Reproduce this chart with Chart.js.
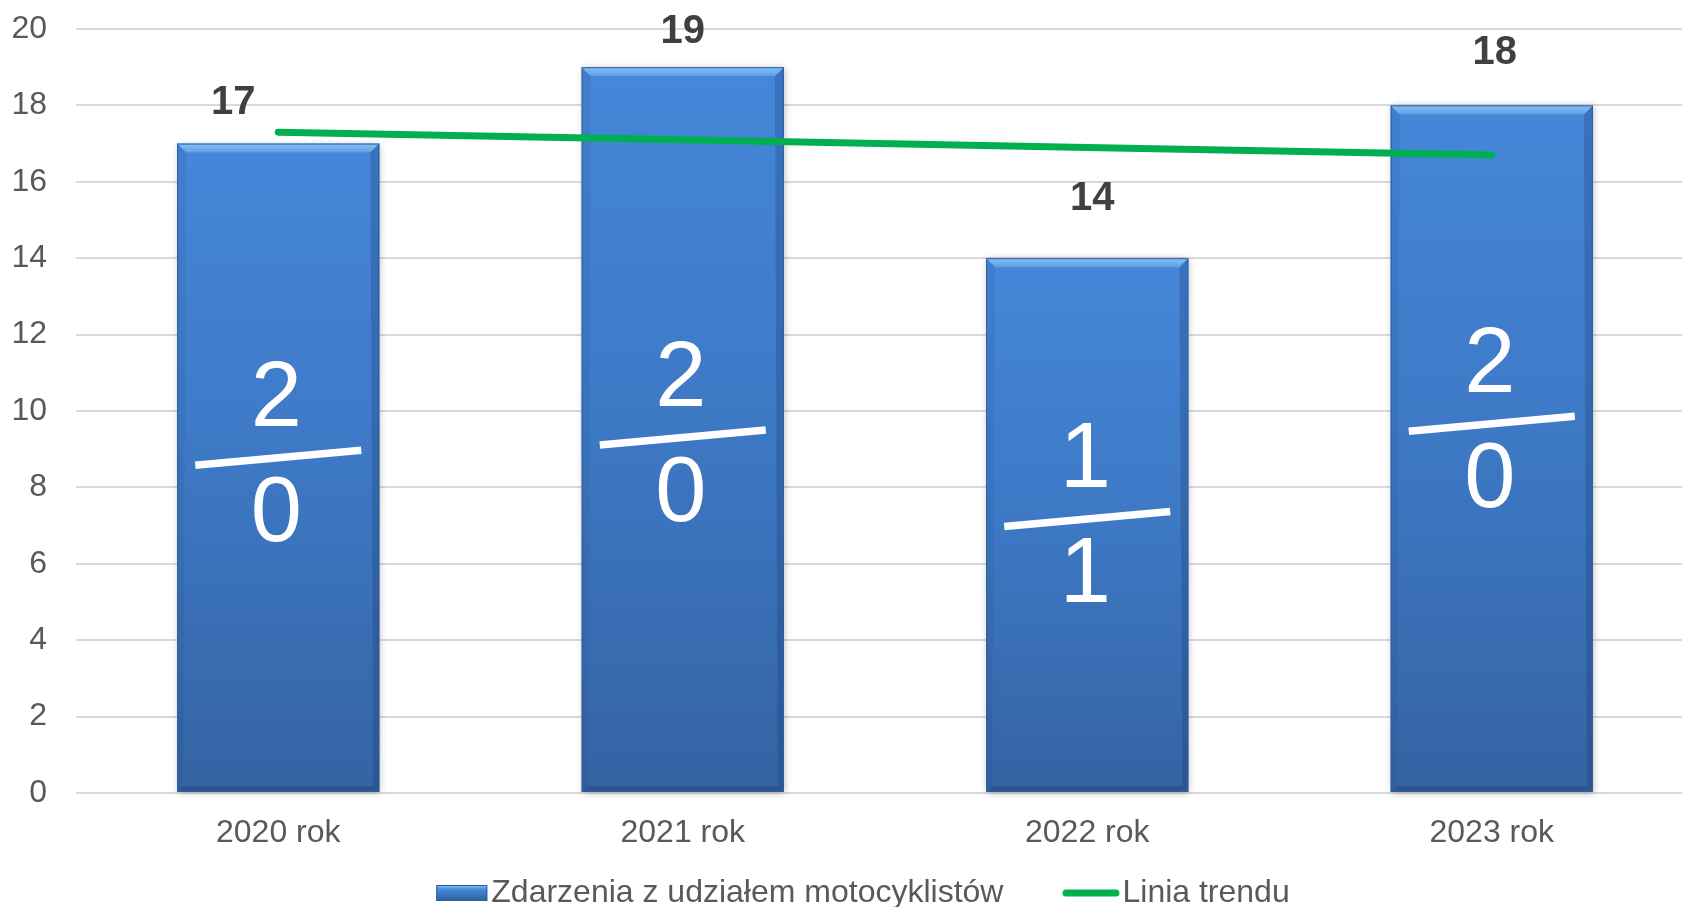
<!DOCTYPE html>
<html><head><meta charset="utf-8">
<script src="https://cdn.jsdelivr.net/npm/chart.js@4.4.0/dist/chart.umd.min.js"></script>
<style>
html,body{margin:0;padding:0;background:#fff;overflow:hidden;}
#wrap{position:absolute;left:0;top:0;width:1700px;height:907px;}
</style></head><body>
<div id="wrap"><canvas id="c"></canvas></div>
<script>
// ---- data ----
const categories = ['2020 rok', '2021 rok', '2022 rok', '2023 rok'];
const eventCounts = [17, 19, 14, 18];
const trendValues = [17.3, 17.1, 16.9, 16.7];
const numerators = ['2', '2', '1', '2'];
const denominators = ['0', '0', '1', '0'];
const seriesNames = ['Zdarzenia z udziałem motocyklistów', 'Linia trendu'];
const yMin = 0, yMax = 20, yStep = 2;

// ---- layout tweaks (pixel offsets of annotations) ----
const valueLabelShift = [[-45, 41], [0, 35], [5, 59], [3, 52]];
const fractionShift = [-10, 8, -6, -25];

const FONT = "'Liberation Sans', Arial, sans-serif";

const barGradient = (ctx) => {
  const chart = ctx.chart;
  if (!chart.chartArea || ctx.raw === undefined) return '#3d78c4';
  const ys = chart.scales.y;
  const top = ys.getPixelForValue(ctx.raw);
  const bottom = ys.getPixelForValue(0);
  const g = chart.ctx.createLinearGradient(0, top, 0, bottom);
  g.addColorStop(0, '#4587d9');
  g.addColorStop(0.5, '#3d78c4');
  g.addColorStop(1, '#3463a3');
  return g;
};

function poly(c, pts, fill) {
  c.fillStyle = fill;
  c.beginPath();
  c.moveTo(pts[0][0], pts[0][1]);
  for (let i = 1; i < pts.length; i++) c.lineTo(pts[i][0], pts[i][1]);
  c.closePath();
  c.fill();
}

const barDecor = {
  id: 'barDecor',
  beforeDatasetDraw(chart, args) {
    if (args.index !== 0) return;
    const c = chart.ctx;
    args.meta.data.forEach(bar => {
      const p = bar.getProps(['x', 'y', 'base', 'width'], true);
      c.save();
      c.shadowColor = 'rgba(0,0,0,0.28)';
      c.shadowBlur = 7;
      c.shadowOffsetX = 1;
      c.shadowOffsetY = 1;
      c.fillStyle = '#ffffff';
      c.fillRect(p.x - p.width / 2, p.y, p.width, p.base - p.y);
      c.restore();
    });
  },
  afterDatasetDraw(chart, args) {
    if (args.index !== 0) return;
    const c = chart.ctx;
    args.meta.data.forEach(bar => {
      const p = bar.getProps(['x', 'y', 'base', 'width'], true);
      const l = p.x - p.width / 2, r = p.x + p.width / 2, t = p.y, b = p.base;
      const bt = 9, bs = 6;
      c.save();
      const g = c.createLinearGradient(0, t, 0, t + bt);
      g.addColorStop(0, '#86c2f6');
      g.addColorStop(1, '#5c9fe5');
      poly(c, [[l, t], [r, t], [r - bt, t + bt], [l + bt, t + bt]], g);
      poly(c, [[l, t], [l + bt, t + bt], [l + bs, b - bs], [l, b]], 'rgba(30,60,110,0.10)');
      poly(c, [[r, t], [r - bt, t + bt], [r - bs, b - bs], [r, b]], 'rgba(20,40,90,0.22)');
      poly(c, [[l, b], [l + bs, b - bs], [r - bs, b - bs], [r, b]], 'rgba(20,40,90,0.25)');
      c.strokeStyle = '#2f5e9c';
      c.lineWidth = 1;
      c.strokeRect(l + 0.5, t + 0.5, p.width - 1, b - t - 1);
      c.restore();
    });
  },
  afterDatasetsDraw(chart) {
    const c = chart.ctx;
    const meta = chart.getDatasetMeta(0);
    c.save();
    meta.data.forEach((bar, i) => {
      const p = bar.getProps(['x', 'y', 'base'], true);
      // value label
      c.font = 'bold 40px ' + FONT;
      c.fillStyle = '#404040';
      c.textAlign = 'center';
      c.textBaseline = 'middle';
      c.fillText(String(eventCounts[i]), p.x + valueLabelShift[i][0], p.y - valueLabelShift[i][1]);
      // fraction
      const mid = (p.y + p.base) / 2 + fractionShift[i];
      c.strokeStyle = '#ffffff';
      c.lineWidth = 7.5;
      c.lineCap = 'butt';
      c.beginPath();
      c.moveTo(p.x - 83, mid + 7.5);
      c.lineTo(p.x + 83, mid - 7.5);
      c.stroke();
      c.fillStyle = '#ffffff';
      c.font = '92px ' + FONT;
      c.fillText(numerators[i], p.x - 2, mid - 57);
      c.fillText(denominators[i], p.x - 2, mid + 58);
    });
    c.restore();
  },
  afterDraw(chart) {
    // legend
    const c = chart.ctx;
    c.save();
    c.font = '32px ' + FONT;
    const w1 = c.measureText(seriesNames[0]).width;
    const w2 = c.measureText(seriesNames[1]).width;
    const boxW = 51, lineW = 57, gapTxt = 4, gapItem = 59;
    const total = boxW + gapTxt + w1 + gapItem + lineW + 3 + w2;
    let x = 863 - total / 2;
    const cy = 893;
    const g = c.createLinearGradient(0, cy - 8, 0, cy + 8);
    g.addColorStop(0, '#86c2f6');
    g.addColorStop(0.3, '#4587d9');
    g.addColorStop(1, '#2f5e9c');
    c.fillStyle = g;
    c.fillRect(x, cy - 8, boxW, 16);
    c.strokeStyle = '#2f5e9c';
    c.lineWidth = 1;
    c.strokeRect(x + 0.5, cy - 7.5, boxW - 1, 15);
    x += boxW + gapTxt;
    c.fillStyle = '#595959';
    c.textAlign = 'left';
    c.textBaseline = 'middle';
    c.fillText(seriesNames[0], x, cy);
    x += w1 + gapItem;
    c.strokeStyle = '#00b050';
    c.lineWidth = 7;
    c.lineCap = 'round';
    c.beginPath();
    c.moveTo(x + 3.5, cy);
    c.lineTo(x + lineW - 3.5, cy);
    c.stroke();
    x += lineW + 3;
    c.fillText(seriesNames[1], x, cy);
    c.restore();
  }
};

new Chart(document.getElementById('c'), {
  type: 'bar',
  data: {
    labels: categories,
    datasets: [
      {
        type: 'bar',
        label: seriesNames[0],
        data: eventCounts,
        backgroundColor: barGradient,
        borderWidth: 0,
        barPercentage: 0.5,
        categoryPercentage: 1,
        order: 2
      },
      {
        type: 'line',
        label: seriesNames[1],
        data: trendValues,
        borderColor: '#00b050',
        borderWidth: 7,
        borderCapStyle: 'round',
        pointRadius: 0,
        pointHoverRadius: 0,
        tension: 0,
        fill: false,
        order: 1
      }
    ]
  },
  options: {
    responsive: true,
    maintainAspectRatio: false,
    animation: false,
    events: [],
    layout: { padding: { left: 0, right: 6, top: 29, bottom: 0 } },
    plugins: {
      legend: { display: false },
      tooltip: { enabled: false }
    },
    scales: {
      x: {
        grid: { display: false },
        border: { display: false },
        ticks: { font: { family: FONT, size: 32 }, color: '#595959', padding: 13, maxRotation: 0 },
        afterFit: s => { s.height = 114; s.paddingLeft = 0; s.paddingRight = 0; }
      },
      y: {
        min: yMin,
        max: yMax,
        grid: { color: '#d9d9d9', lineWidth: 2, drawTicks: false },
        border: { display: false },
        ticks: { stepSize: yStep, font: { family: FONT, size: 32 }, color: '#595959', padding: 29 },
        afterFit: s => { s.width = 76; s.paddingTop = 0; s.paddingBottom = 0; }
      }
    }
  },
  plugins: [barDecor]
});
</script>
</body></html>
